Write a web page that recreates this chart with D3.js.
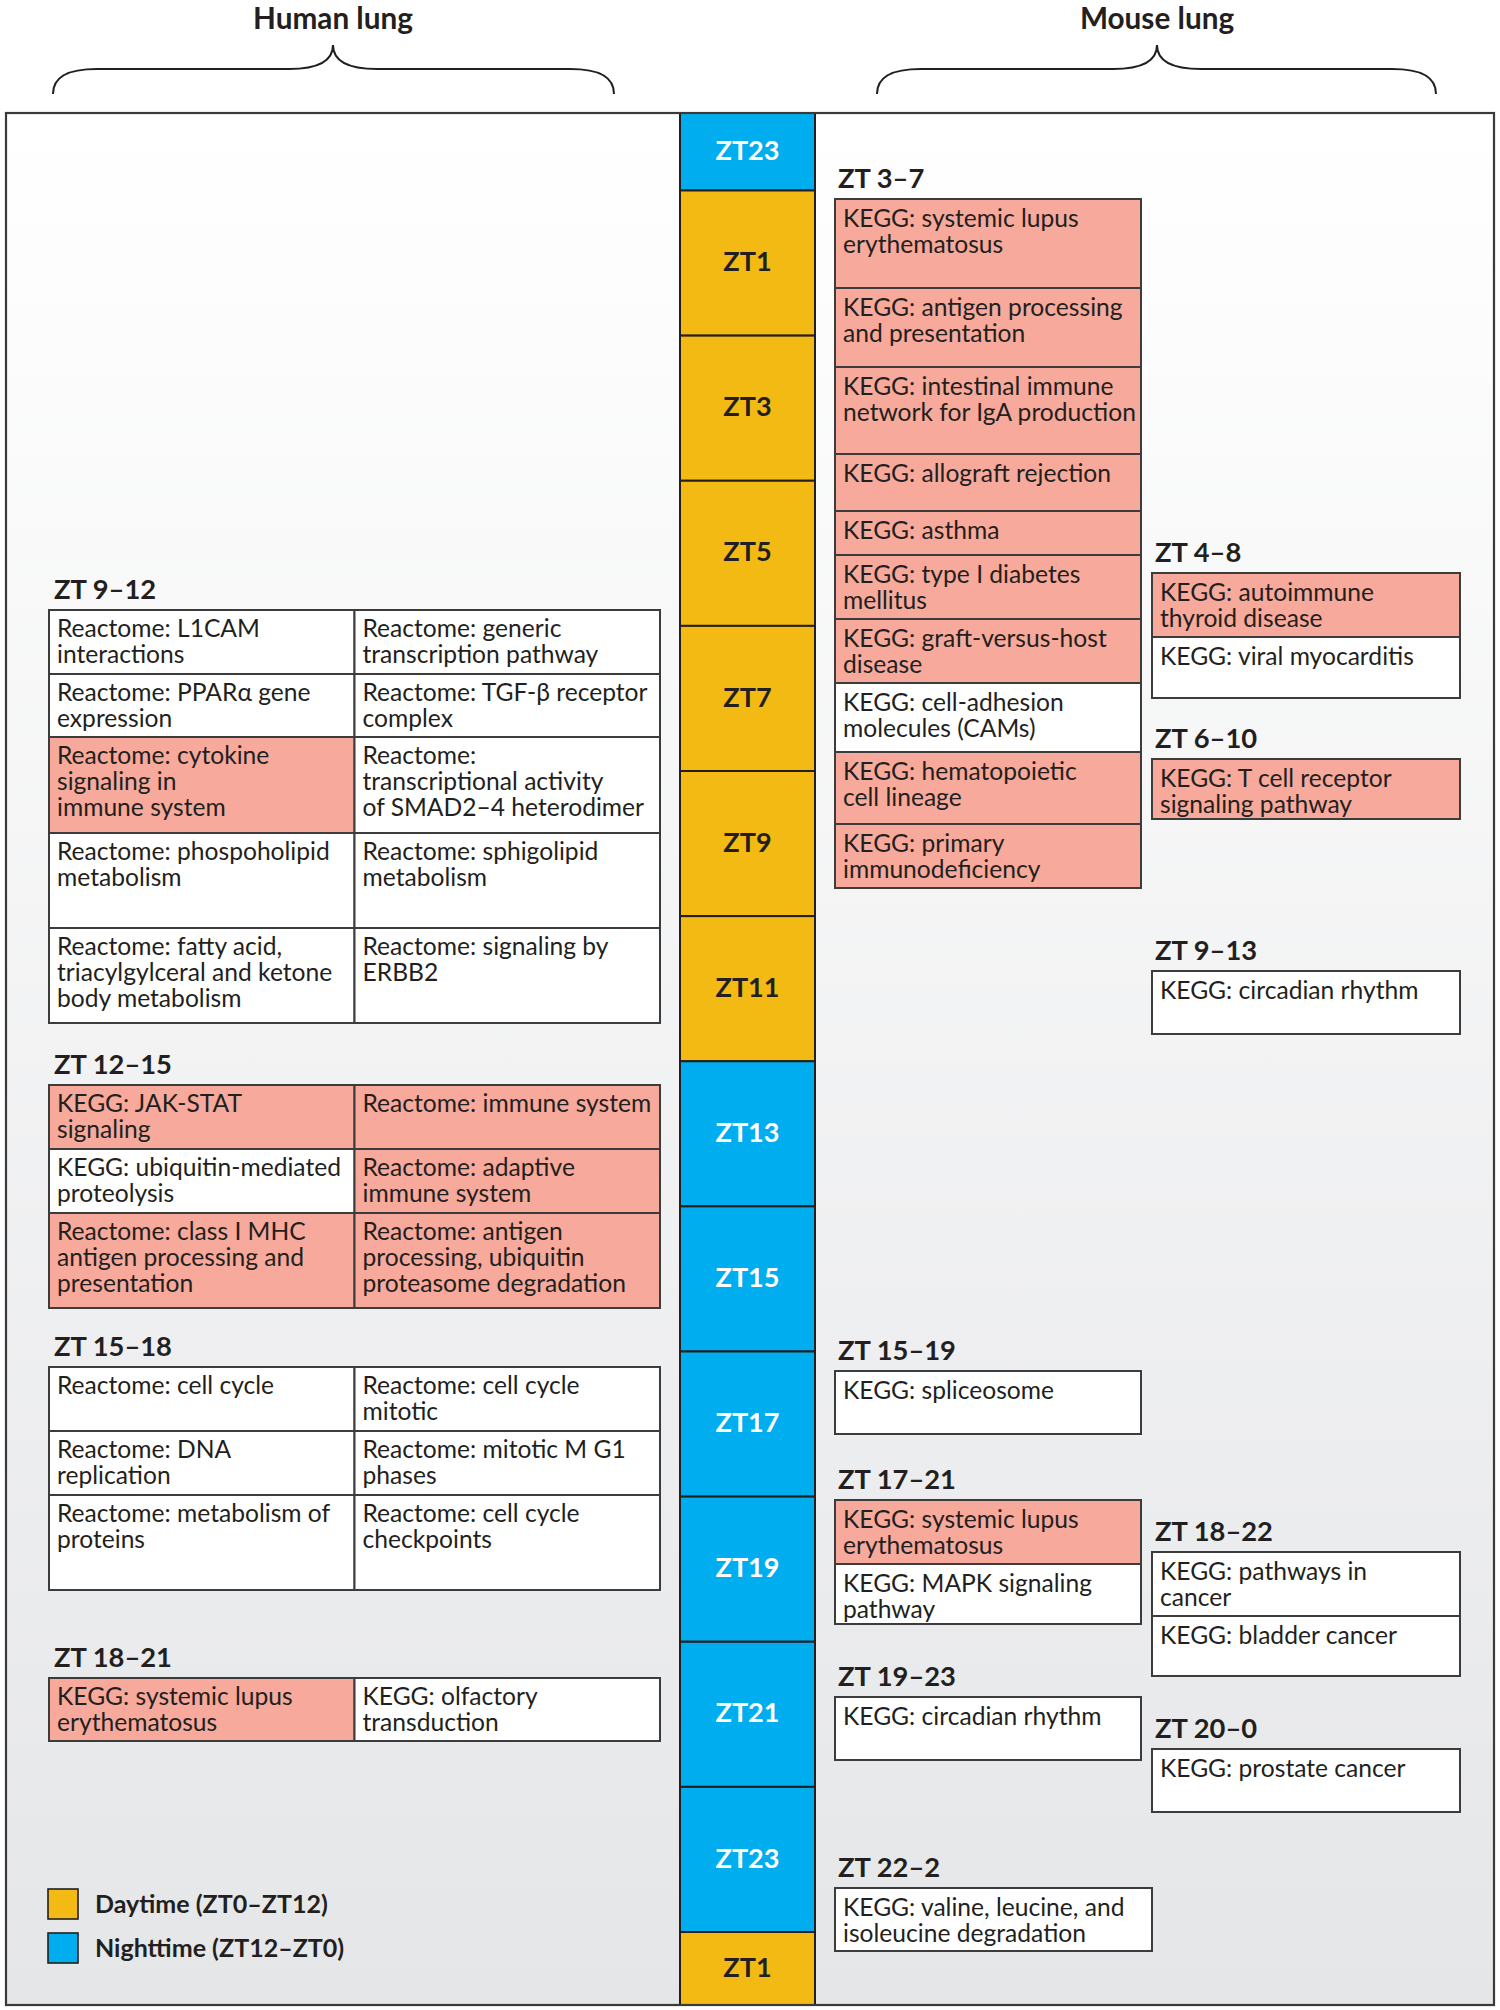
<!DOCTYPE html>
<html><head><meta charset="utf-8">
<script src="https://cdn.jsdelivr.net/npm/d3@7"></script>
<style>body{margin:0;background:#fff}svg{display:block}</style>
</head><body>
<svg id="c" width="1500" height="2010"></svg>
<script>
// ---------------- DATA ----------------
const panelTitles = ["Human lung", "Mouse lung"];

// clock column: start hour of each 2-hour band, its label and its phase
const clockStarts = [-2, 0, 2, 4, 6, 8, 10, 12, 14, 16, 18, 20, 22, 24];
const clockLabels = ["ZT23","ZT1","ZT3","ZT5","ZT7","ZT9","ZT11","ZT13","ZT15","ZT17","ZT19","ZT21","ZT23","ZT1"];
const clockPhase  = ["night","day","day","day","day","day","day","night","night","night","night","night","night","day"];

const legendLabels = ["Daytime (ZT0\u2013ZT12)", "Nighttime (ZT12\u2013ZT0)"];
const legendPhase  = ["day", "night"];

// Human lung groups (2-column tables, row-major), [text, enrichedImmune]
const humanGroupNames = ["ZT 9\u201312", "ZT 12\u201315", "ZT 15\u201318", "ZT 18\u201321"];
const humanZT9_12 = [
  ["Reactome: L1CAM\ninteractions", 0], ["Reactome: generic\ntranscription pathway", 0],
  ["Reactome: PPAR\u03b1 gene\nexpression", 0], ["Reactome: TGF-\u03b2 receptor\ncomplex", 0],
  ["Reactome: cytokine\nsignaling in\nimmune system", 1], ["Reactome:\ntranscriptional activity\nof SMAD2\u20134 heterodimer", 0],
  ["Reactome: phospoholipid\nmetabolism", 0], ["Reactome: sphigolipid\nmetabolism", 0],
  ["Reactome: fatty acid,\ntriacylgylceral and ketone\nbody metabolism", 0], ["Reactome: signaling by\nERBB2", 0]
];
const humanZT12_15 = [
  ["KEGG: JAK-STAT\nsignaling", 1], ["Reactome: immune system", 1],
  ["KEGG: ubiquitin-mediated\nproteolysis", 0], ["Reactome: adaptive\nimmune system", 1],
  ["Reactome: class I MHC\nantigen processing and\npresentation", 1], ["Reactome: antigen\nprocessing, ubiquitin\nproteasome degradation", 1]
];
const humanZT15_18 = [
  ["Reactome: cell cycle", 0], ["Reactome: cell cycle\nmitotic", 0],
  ["Reactome: DNA\nreplication", 0], ["Reactome: mitotic M G1\nphases", 0],
  ["Reactome: metabolism of\nproteins", 0], ["Reactome: cell cycle\ncheckpoints", 0]
];
const humanZT18_21 = [
  ["KEGG: systemic lupus\nerythematosus", 1], ["KEGG: olfactory\ntransduction", 0]
];
const humanGroupItems = [humanZT9_12, humanZT12_15, humanZT15_18, humanZT18_21];

// Mouse lung groups (single-column lists)
const mouseGroupNames = ["ZT 3\u20137","ZT 4\u20138","ZT 6\u201310","ZT 9\u201313","ZT 15\u201319","ZT 17\u201321","ZT 18\u201322","ZT 19\u201323","ZT 20\u20130","ZT 22\u20132"];
const mouseZT3_7 = [
  ["KEGG: systemic lupus\nerythematosus", 1],
  ["KEGG: antigen processing\nand presentation", 1],
  ["KEGG: intestinal immune\nnetwork for IgA production", 1],
  ["KEGG: allograft rejection", 1],
  ["KEGG: asthma", 1],
  ["KEGG: type I diabetes\nmellitus", 1],
  ["KEGG: graft-versus-host\ndisease", 1],
  ["KEGG: cell-adhesion\nmolecules (CAMs)", 0],
  ["KEGG: hematopoietic\ncell lineage", 1],
  ["KEGG: primary\nimmunodeficiency", 1]
];
const mouseZT4_8   = [["KEGG: autoimmune\nthyroid disease", 1], ["KEGG: viral myocarditis", 0]];
const mouseZT6_10  = [["KEGG: T cell receptor\nsignaling pathway", 1]];
const mouseZT9_13  = [["KEGG: circadian rhythm", 0]];
const mouseZT15_19 = [["KEGG: spliceosome", 0]];
const mouseZT17_21 = [["KEGG: systemic lupus\nerythematosus", 1], ["KEGG: MAPK signaling\npathway", 0]];
const mouseZT18_22 = [["KEGG: pathways in\ncancer", 0], ["KEGG: bladder cancer", 0]];
const mouseZT19_23 = [["KEGG: circadian rhythm", 0]];
const mouseZT20_0  = [["KEGG: prostate cancer", 0]];
const mouseZT22_2  = [["KEGG: valine, leucine, and\nisoleucine degradation", 0]];
const mouseGroupItems = [mouseZT3_7, mouseZT4_8, mouseZT6_10, mouseZT9_13, mouseZT15_19, mouseZT17_21, mouseZT18_22, mouseZT19_23, mouseZT20_0, mouseZT22_2];

// ---------------- LAYOUT (positions / sizes) ----------------
const humanLayout = [
  {top: 610,  rows: [64, 63, 96, 95, 95]},
  {top: 1085, rows: [64, 64, 95]},
  {top: 1367, rows: [64, 64, 95]},
  {top: 1678, rows: [63]}
];
const mouseLayout = [
  {col: "A", top: 199,  rows: [89, 79, 87, 57, 44, 64, 64, 69, 72, 64]},
  {col: "B", top: 573,  rows: [64, 61]},
  {col: "B", top: 759,  rows: [60]},
  {col: "B", top: 971,  rows: [63]},
  {col: "A", top: 1371, rows: [63]},
  {col: "A", top: 1500, rows: [64, 60]},
  {col: "B", top: 1552, rows: [64, 60]},
  {col: "A", top: 1697, rows: [63]},
  {col: "B", top: 1749, rows: [63]},
  {col: "W", top: 1888, rows: [63]}
];
const mouseCols = {A: [835, 1141], B: [1152, 1460], W: [835, 1152]};

const COL = {day: "#F4BA14", night: "#00ADEE", hl: "#F7A99B", white: "#FFFFFF", ink: "#231F20", line: "#3C3C3C"};
const FONT = "Lato, 'Open Sans', 'Noto Sans', sans-serif";
const FRAME = {x0: 6, x1: 1494, y0: 113, y1: 2005};

// ---------------- DRAW ----------------
const svg = d3.select("#c");

function measure(str, weight, size) {
  const t = svg.append("text").attr("font-family", FONT).attr("font-weight", weight)
    .attr("font-size", size).text(str);
  const w = t.node().getComputedTextLength(); t.remove(); return w;
}
const fit = (str, weight, target) => 100 * target / measure(str, weight, 100);
const bodySize   = fit("network for IgA production", 400, 293);
const headSize   = fit("ZT 12\u201315", 700, 118);
const clockSize  = fit("ZT23", 700, 64);
const titleSize  = fit("Human lung", 700, 160);
const legendSize = fit("Daytime (ZT0\u2013ZT12)", 700, 233);
const LEAD = 26;

// background gradient frame
const defs = svg.append("defs");
const g1 = defs.append("linearGradient").attr("id", "bg").attr("x1", 0).attr("y1", 0).attr("x2", 0).attr("y2", 1);
g1.append("stop").attr("offset", "0%").attr("stop-color", "#FFFFFF");
g1.append("stop").attr("offset", "100%").attr("stop-color", "#E5E6E8");
defs.append("clipPath").attr("id", "frameClip").append("rect")
  .attr("x", FRAME.x0).attr("y", FRAME.y0).attr("width", FRAME.x1 - FRAME.x0).attr("height", FRAME.y1 - FRAME.y0);

svg.append("rect").attr("x", FRAME.x0).attr("y", FRAME.y0)
  .attr("width", FRAME.x1 - FRAME.x0).attr("height", FRAME.y1 - FRAME.y0)
  .attr("fill", "url(#bg)");

// titles + braces
const titleX = [333, 1157];
const braceX = [[53, 614], [877, 1436]];
panelTitles.forEach((t, i) => {
  svg.append("text").attr("x", titleX[i]).attr("y", 29).attr("text-anchor", "middle")
    .attr("font-family", FONT).attr("font-weight", 700).attr("font-size", titleSize)
    .attr("fill", COL.ink).text(t);
  const [x0, x1] = braceX[i], xm = titleX[i];
  const ye = 94, yh = 69, yp = 45, r = 44;
  const p = d3.path();
  p.moveTo(x0, ye);
  p.bezierCurveTo(x0, yh + 8, x0 + 14, yh, x0 + r, yh);
  p.lineTo(xm - r, yh);
  p.bezierCurveTo(xm - 14, yh, xm, yh - 8, xm, yp);
  p.bezierCurveTo(xm, yh - 8, xm + 14, yh, xm + r, yh);
  p.lineTo(x1 - r, yh);
  p.bezierCurveTo(x1 - 14, yh, x1, yh + 8, x1, ye);
  svg.append("path").attr("d", p.toString()).attr("fill", "none")
    .attr("stroke", COL.ink).attr("stroke-width", 2);
});

// clock column
const y = d3.scaleLinear().domain([0, 24]).range([190.5, 1932]);
const clockX = [680, 815];
const clock = svg.append("g").attr("clip-path", "url(#frameClip)");
const bands = clockStarts.map((s, i) => {
  const a = Math.max(y(s), FRAME.y0), b = Math.min(y(s + 2), FRAME.y1);
  return {a, b, label: clockLabels[i], phase: clockPhase[i]};
});
clock.selectAll("rect.band").data(bands).join("rect").attr("class", "band")
  .attr("x", clockX[0]).attr("width", clockX[1] - clockX[0])
  .attr("y", d => d.a).attr("height", d => d.b - d.a)
  .attr("fill", d => COL[d.phase]).attr("stroke", COL.ink).attr("stroke-width", 2);
svg.selectAll("text.clk").data(bands).join("text").attr("class", "clk")
  .attr("x", (clockX[0] + clockX[1]) / 2).attr("y", d => (d.a + d.b) / 2 + 0.3 * clockSize)
  .attr("text-anchor", "middle").attr("font-family", FONT).attr("font-weight", 700)
  .attr("font-size", clockSize).attr("fill", d => d.phase === "day" ? COL.ink : "#FFFFFF")
  .text(d => d.label);

// frame outline
svg.append("rect").attr("x", FRAME.x0).attr("y", FRAME.y0)
  .attr("width", FRAME.x1 - FRAME.x0).attr("height", FRAME.y1 - FRAME.y0)
  .attr("fill", "none").attr("stroke", "#3A3A3A").attr("stroke-width", 2.2);

// generic cell text writer
function writeLines(sel, x, top, off) {
  sel.each(function (d) {
    const t = d3.select(this);
    d.text.split("\n").forEach((ln, k) => {
      t.append("tspan").attr("x", x(d)).attr("y", top(d) + off + k * LEAD).text(ln);
    });
  });
}

// Human tables
const hx = d3.scaleBand().domain([0, 1]).range([49, 660]);
humanGroupNames.forEach((name, gi) => {
  const L = humanLayout[gi];
  const rowTops = [L.top];
  L.rows.forEach(h => rowTops.push(rowTops[rowTops.length - 1] + h));
  const cells = humanGroupItems[gi].map((it, k) => {
    const r = Math.floor(k / 2), c = k % 2;
    return {text: it[0], hl: it[1], x: hx(c), w: hx.bandwidth(), top: rowTops[r], h: L.rows[r]};
  });
  const g = svg.append("g");
  g.append("text").attr("x", 54).attr("y", L.top - 11).attr("font-family", FONT)
    .attr("font-weight", 700).attr("font-size", headSize).attr("fill", COL.ink).text(name);
  g.selectAll("rect").data(cells).join("rect")
    .attr("x", d => d.x).attr("y", d => d.top).attr("width", d => d.w).attr("height", d => d.h)
    .attr("fill", d => d.hl ? COL.hl : COL.white).attr("stroke", COL.line).attr("stroke-width", 2);
  g.selectAll("text.cell").data(cells).join("text").attr("class", "cell")
    .attr("font-family", FONT).attr("font-size", bodySize).attr("fill", COL.ink)
    .call(writeLines, d => d.x + 8, d => d.top, 27);
});

// Mouse lists
mouseGroupNames.forEach((name, gi) => {
  const L = mouseLayout[gi];
  const [x0, x1] = mouseCols[L.col];
  let top = L.top;
  const cells = mouseGroupItems[gi].map((it, k) => {
    const c = {text: it[0], hl: it[1], x: x0, w: x1 - x0, top: top, h: L.rows[k]};
    top += L.rows[k];
    return c;
  });
  const g = svg.append("g");
  g.append("text").attr("x", x0 + 3).attr("y", L.top - 11).attr("font-family", FONT)
    .attr("font-weight", 700).attr("font-size", headSize).attr("fill", COL.ink).text(name);
  g.selectAll("rect").data(cells).join("rect")
    .attr("x", d => d.x).attr("y", d => d.top).attr("width", d => d.w).attr("height", d => d.h)
    .attr("fill", d => d.hl ? COL.hl : COL.white).attr("stroke", COL.line).attr("stroke-width", 2);
  g.selectAll("text.cell").data(cells).join("text").attr("class", "cell")
    .attr("font-family", FONT).attr("font-size", bodySize).attr("fill", COL.ink)
    .call(writeLines, d => d.x + 8, d => d.top, 28);
});

// legend
const legY = d3.scaleBand().domain([0, 1]).range([1882, 1970]);
const leg = svg.append("g");
leg.selectAll("rect").data(legendLabels).join("rect")
  .attr("x", 48).attr("y", (d, i) => legY(i) + (legY.bandwidth() - 30) / 2)
  .attr("width", 30).attr("height", 30)
  .attr("fill", (d, i) => COL[legendPhase[i]]).attr("stroke", COL.ink).attr("stroke-width", 1.6);
leg.selectAll("text").data(legendLabels).join("text")
  .attr("x", 95).attr("y", (d, i) => legY(i) + legY.bandwidth() / 2 + 0.36 * legendSize)
  .attr("font-family", FONT).attr("font-weight", 700).attr("font-size", legendSize)
  .attr("fill", COL.ink).text(d => d);
</script>
</body></html>
